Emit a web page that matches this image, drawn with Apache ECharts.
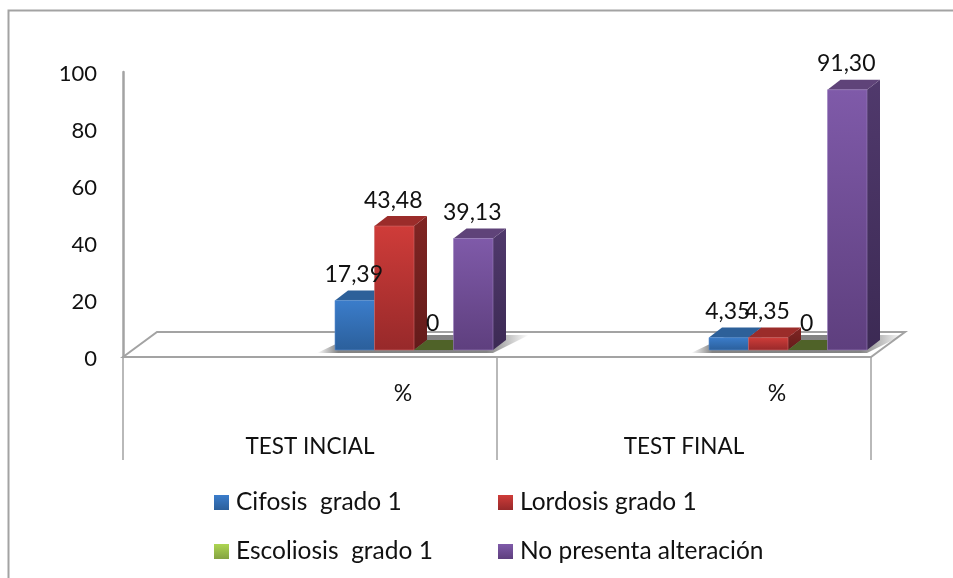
<!DOCTYPE html>
<html>
<head>
<meta charset="utf-8">
<style>html,body{margin:0;padding:0;background:#fff}#chart{width:953px;height:578px}</style>
<script src="https://cdn.jsdelivr.net/npm/echarts@6/dist/echarts.min.js"></script>
</head>
<body>
<div id="chart"></div>
<script>
// Chart data
var categories = ['TEST INCIAL', 'TEST FINAL'];
var unitLabel = '%';
var seriesNames = ['Cifosis  grado 1', 'Lordosis grado 1', 'Escoliosis  grado 1', 'No presenta alteración'];
var cifosis = [17.39, 4.35];
var lordosis = [43.48, 4.35];
var escoliosis = [0, 0];
var sinAlteracion = [39.13, 91.30];
var yTicks = [0, 20, 40, 60, 80, 100];

// Pseudo-3D geometry, in pixels or fractions of a category band
var FONT = 'Lato, "Open Sans", sans-serif';
var DEPTH_X = 13, DEPTH_Y = -10;        // receding edge of one bar
var FLOOR_X = 34, FLOOR_Y = -25;        // receding edge of the floor
var BASE_LIFT = 7;                      // bars stand inside the floor
var BAR_START = 25 / 374, BAR_W = 39.5 / 374;
var GREY = '#a3a3a3';

function vgrad(a, b) {
  return {type: 'linear', x: 0, y: 0, x2: 0, y2: 1,
    colorStops: [{offset: 0, color: a}, {offset: 1, color: b}]};
}

var palette = [
  {front: vgrad('#3b7dcb', '#2b5f9b'), top: '#2d6099', side: '#264f80', edge: '#5a8fd0', legend: vgrad('#3b7dcb', '#2b5f9b')},
  {front: vgrad('#cf3c39', '#97292a'), top: '#9b2c2a', side: vgrad('#802523', '#641b1a'), edge: '#d06a68', legend: vgrad('#cf3c39', '#97292a')},
  {front: vgrad('#9bc448', '#76923c'), top: '#4f6228', side: '#4f6228', edge: '#4f6228', legend: vgrad('#add552', '#84a242')},
  {front: vgrad('#7f5aa9', '#5e3f7e'), top: '#5f4379', side: vgrad('#50396c', '#3c2a54'), edge: '#9a80bd', legend: vgrad('#7f5aa9', '#5e3f7e')}
];
var seriesValues = [cifosis, lordosis, escoliosis, sinAlteracion];

function barGeometry(api, seriesIdx) {
  var cat = api.value(0), val = api.value(1);
  var band = api.size([1, 0])[0];
  var centre = api.coord([cat, 0])[0];
  var left = centre + band * (BAR_START + seriesIdx * BAR_W);
  return {
    left: left,
    right: left + band * BAR_W,
    top: api.coord([cat, val])[1] - BASE_LIFT,
    base: api.coord([cat, 0])[1] - BASE_LIFT,
    val: val
  };
}

function poly(points, fill, z2, stroke) {
  return {type: 'polygon', z2: z2 || 0, shape: {points: points},
    style: {fill: fill, stroke: stroke || null, lineWidth: stroke ? 1 : 0}};
}

function renderBar(seriesIdx) {
  return function (params, api) {
    var g = barGeometry(api, seriesIdx), c = palette[seriesIdx];
    var dx = DEPTH_X, dy = DEPTH_Y;
    var children = [];
    children.push(poly([[g.right, g.top], [g.right + dx, g.top + dy], [g.right + dx, g.base + dy], [g.right, g.base]], c.side));
    children.push(poly([[g.left, g.top], [g.left + dx, g.top + dy], [g.right + dx, g.top + dy], [g.right, g.top]], c.top));
    if (g.val > 0) {
      children.push({type: 'rect', shape: {x: g.left, y: g.top, width: g.right - g.left, height: g.base - g.top},
        style: {fill: c.front, stroke: c.edge, lineWidth: 0.6}});
    }
    return {type: 'group', children: children};
  };
}

function renderLabel(seriesIdx) {
  return function (params, api) {
    var g = barGeometry(api, seriesIdx);
    var text = g.val === 0 ? '0' : g.val.toFixed(2).replace('.', ',');
    return {type: 'text', style: {
      text: text, x: (g.left + g.right) / 2 - 1, y: g.top + DEPTH_Y - 16,
      align: 'center', verticalAlign: 'middle', font: '23px ' + FONT, fill: '#111'}};
  };
}

// Floor plane and the soft shadow that the bars cast on it
function renderFloor(params, api) {
  var cs = params.coordSys;
  var yF = cs.y + cs.height, xL = cs.x, xR = cs.x + cs.width;
  return {type: 'group', children: [
    {type: 'polygon', shape: {points: [[xL, yF], [xL + FLOOR_X, yF + FLOOR_Y], [xR + FLOOR_X, yF + FLOOR_Y], [xR, yF]]},
      style: {fill: '#fff', stroke: GREY, lineWidth: 2}}
  ]};
}

function renderShadow(params, api) {
  var cat = api.value(0);
  var band = api.size([1, 0])[0];
  var centre = api.coord([cat, 0])[0];
  var y = api.coord([cat, 0])[1];
  var l = centre + band * BAR_START, r = l + band * BAR_W * 4;
  return {type: 'polygon', shape: {points: [[l - 18, y - 4], [r, y - 4], [r + 36, y - 22], [l + 20, y - 22]]},
    style: {fill: {type: 'linear', x: 0, y: 0, x2: 1, y2: 0, colorStops: [
      {offset: 0, color: 'rgba(110,110,110,0)'},
      {offset: 0.1, color: 'rgba(110,110,110,0.85)'},
      {offset: 0.8, color: 'rgba(110,110,110,0.85)'},
      {offset: 1, color: 'rgba(110,110,110,0)'}]}}};
}

function renderUnit(params, api) {
  var p = api.coord([api.value(0), 0]);
  return {type: 'text', style: {text: unitLabel, x: p[0] + 93, y: 394,
    align: 'center', verticalAlign: 'middle', font: '23px ' + FONT, fill: '#111'}};
}

var catData = categories.map(function (c, i) { return [i, 0]; });
var series = [
  {type: 'custom', name: 'floor', z: 1, silent: true, clip: false, data: [[0, 0]], renderItem: renderFloor, encode: {x: 0, y: 1}},
  {type: 'custom', name: 'shadow', z: 2, silent: true, clip: false, data: catData, renderItem: renderShadow, encode: {x: 0, y: 1}},
  {type: 'custom', name: 'unit', z: 6, silent: true, clip: false, data: catData, renderItem: renderUnit, encode: {x: 0, y: 1}}
];
seriesValues.forEach(function (vals, s) {
  var rows = vals.map(function (v, i) { return [i, v]; });
  series.push({type: 'custom', name: seriesNames[s], z: 3, clip: false, data: rows,
    renderItem: renderBar(s), encode: {x: 0, y: 1}, itemStyle: {color: palette[s].legend}});
  series.push({type: 'custom', name: 'label' + s, z: 6, clip: false, silent: true, data: rows,
    renderItem: renderLabel(s), encode: {x: 0, y: 1}});
});

function legendBlock(left, a, b) {
  return {
    left: left, top: 490, orient: 'vertical', icon: 'rect', itemWidth: 15, itemHeight: 15,
    itemGap: 24, padding: 0, selectedMode: false,
    textStyle: {fontFamily: FONT, fontSize: 24.5, color: '#111', padding: [2, 0, 0, 2]},
    data: [
      {name: seriesNames[a], itemStyle: {color: palette[a].legend}},
      {name: seriesNames[b], itemStyle: {color: palette[b].legend}}
    ]
  };
}

var chart = echarts.init(document.getElementById('chart'), null, {renderer: 'canvas'});
chart.setOption({
  animation: false,
  backgroundColor: '#fff',
  grid: {left: 123, top: 72, width: 748, height: 285},
  xAxis: {
    type: 'category', data: categories,
    axisLine: {lineStyle: {color: GREY, width: 2}},
    axisTick: {show: true, length: 103, lineStyle: {color: GREY, width: 1.5}},
    axisLabel: {margin: 78, fontFamily: FONT, fontSize: 22.5, color: '#111'},
    splitLine: {show: false}
  },
  yAxis: {
    type: 'value', min: yTicks[0], max: yTicks[yTicks.length - 1], interval: yTicks[1] - yTicks[0],
    axisLine: {show: true, lineStyle: {color: GREY, width: 2.5}},
    axisTick: {show: false},
    axisLabel: {margin: 26, fontFamily: FONT, fontSize: 22, color: '#111', verticalAlign: 'top', lineHeight: 4},
    splitLine: {show: false}
  },
  legend: [legendBlock(214, 0, 2), legendBlock(498, 1, 3)],
  graphic: [{
    type: 'polyline', silent: true,
    shape: {points: [[953, 10.5], [8.5, 10.5], [8.5, 578]]},
    style: {stroke: GREY, lineWidth: 2, fill: null}
  }],
  series: series
});
</script>
</body>
</html>
